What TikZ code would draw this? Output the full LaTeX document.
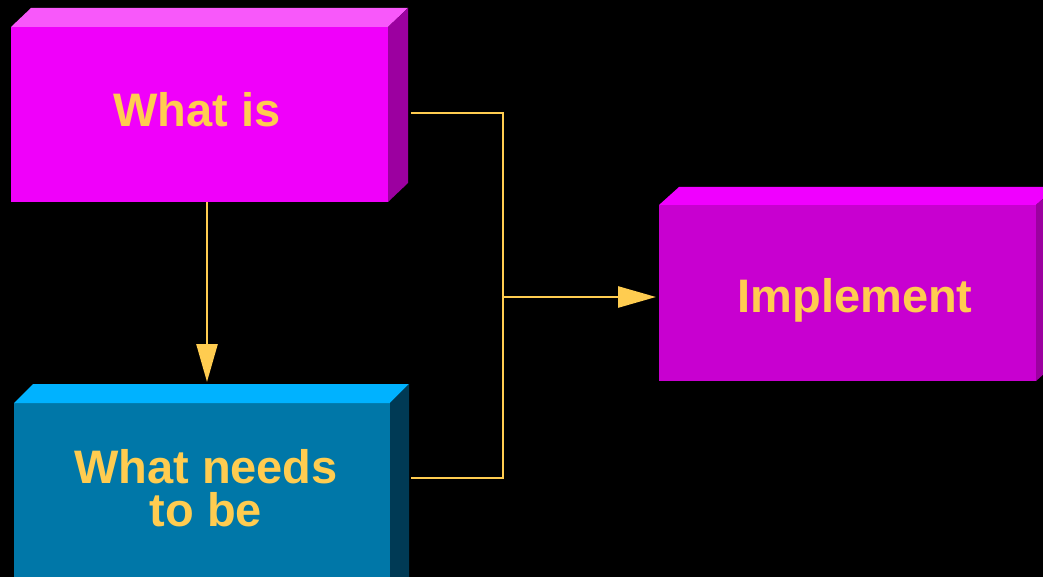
\documentclass[tikz,border=0pt]{standalone}
\usepackage{fontspec}
\setmainfont{Liberation Sans}
\usetikzlibrary{arrows.meta}
\definecolor{magF}{HTML}{F000FA}
\definecolor{magT}{HTML}{F858FA}
\definecolor{magS}{HTML}{9C00A0}
\definecolor{bluF}{HTML}{0077A8}
\definecolor{bluT}{HTML}{00B2FF}
\definecolor{bluS}{HTML}{003A55}
\definecolor{purF}{HTML}{C800D0}
\definecolor{purT}{HTML}{F000FF}
\definecolor{purS}{HTML}{9C00A0}
\definecolor{txt}{HTML}{FFCC50}
\tikzset{
  face/.style={rectangle, inner sep=0pt, outer sep=0pt, draw=none, anchor=north west},
  lbl/.style={inner sep=0pt, text=txt, font=\fontsize{47}{43}\selectfont\bfseries, align=center},
  conn/.style={draw=txt, line width=2.6pt},
  tip/.style={-{Triangle[length=38pt,width=21pt]}}
}
\begin{document}
\begin{tikzpicture}[x=1pt,y=-1pt]
\fill[black] (0,0) rectangle (1043,577);
\useasboundingbox (0,0) rectangle (1043,577);
\clip (0,0) rectangle (1043,577);
% box 1: What is
\node[face, fill=magF, minimum width=377pt, minimum height=175pt] (wi) at (11,27) {};
\fill[magT] (wi.north west) -- ++(20,-19) -- ([shift={(20,-19)}]wi.north east) -- (wi.north east) -- cycle;
\fill[magS] (wi.north east) -- ++(20,-19) -- ([shift={(20,-19)}]wi.south east) -- (wi.south east) -- cycle;
% box 2: What needs to be
\node[face, fill=bluF, minimum width=376pt, minimum height=200pt] (wn) at (14,403) {};
\fill[bluT] (wn.north west) -- ++(19,-19) -- ([shift={(19,-19)}]wn.north east) -- (wn.north east) -- cycle;
\fill[bluS] (wn.north east) -- ++(19,-19) -- ([shift={(19,-19)}]wn.south east) -- (wn.south east) -- cycle;
% box 3: Implement
\node[face, fill=purF, minimum width=377pt, minimum height=176pt] (im) at (659,205) {};
\fill[purT] (im.north west) -- ++(20,-18) -- ([shift={(20,-18)}]im.north east) -- (im.north east) -- cycle;
\fill[purS] (im.north east) -- ++(20,-18) -- ([shift={(20,-18)}]im.south east) -- (im.south east) -- cycle;
% labels
\node[lbl, anchor=base] (t1) at (197,127) {What is};
\node[lbl, anchor=north] (t2) at (206,449) {What needs\\to be};
\node[lbl, anchor=base] (t3) at (855,312) {Implement};
% connectors
\coordinate (j) at (503,297);
\draw[conn, tip] ([xshift=7.5pt]wi.south) -- ([xshift=5pt,yshift=21pt]wn.north);
\draw[conn] ([xshift=23pt,yshift=1.5pt]wi.east) -| (j) |- ([xshift=21pt,yshift=-75pt]wn.north east);
\draw[conn, tip] (j) -- ([xshift=-3pt,yshift=-4pt]im.west);
\end{tikzpicture}
\end{document}
